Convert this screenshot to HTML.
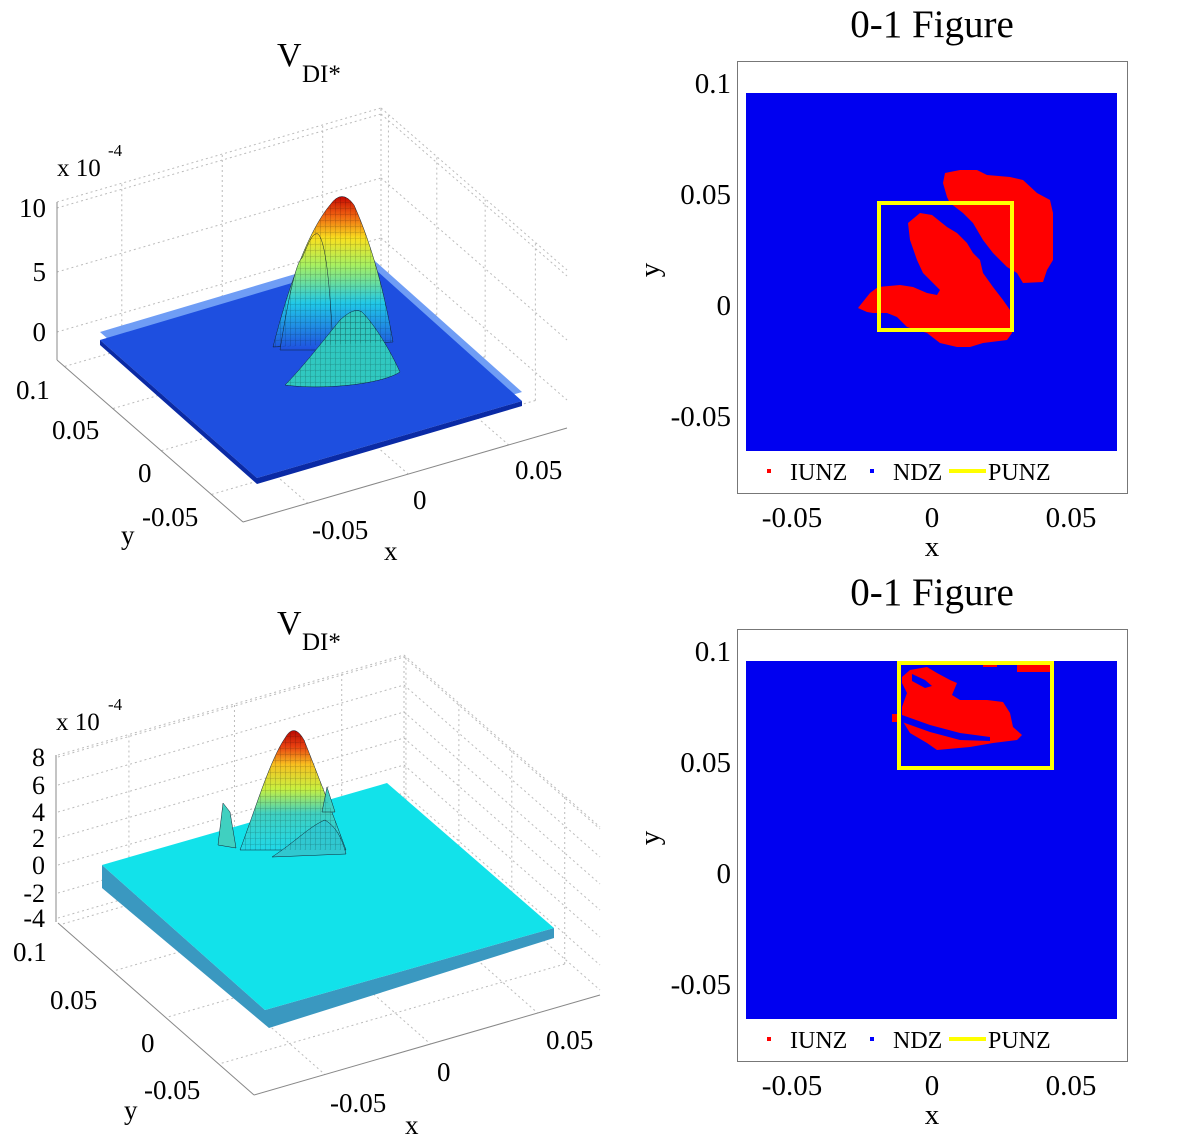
<!DOCTYPE html>
<html><head><meta charset="utf-8"><style>
html,body{margin:0;padding:0;background:#fff}
svg{display:block}
text{font-family:"Liberation Serif",serif;fill:#000}
</style></head><body>
<svg id="s" width="1181" height="1143" viewBox="0 0 1181 1143" xmlns="http://www.w3.org/2000/svg">
<defs>
<linearGradient id="jet1" gradientUnits="userSpaceOnUse" x1="0" y1="350" x2="0" y2="195">
<stop offset="0" stop-color="#1f4fdf"/><stop offset="0.3" stop-color="#20c8e8"/><stop offset="0.55" stop-color="#a8f060"/><stop offset="0.72" stop-color="#f8e020"/><stop offset="0.87" stop-color="#f06010"/><stop offset="1" stop-color="#c00000"/>
</linearGradient>
<linearGradient id="jet2" gradientUnits="userSpaceOnUse" x1="0" y1="850" x2="0" y2="728">
<stop offset="0" stop-color="#20d8e8"/><stop offset="0.3" stop-color="#40d0c0"/><stop offset="0.5" stop-color="#c8f040"/><stop offset="0.7" stop-color="#f8c020"/><stop offset="0.85" stop-color="#e84010"/><stop offset="1" stop-color="#b00000"/>
</linearGradient>
<pattern id="mesh" width="5" height="6" patternUnits="userSpaceOnUse"><line x1="0" y1="0" x2="0" y2="6" stroke="#000" stroke-width="0.6" opacity="0.45"/><line x1="0" y1="5" x2="5" y2="4" stroke="#000" stroke-width="0.4" opacity="0.3"/></pattern>
</defs>
<g id="grid" stroke="#bbb" stroke-width="1" stroke-dasharray="2,3" fill="none"></g>

<!-- Top-left 3D -->
<text x="277" y="66" font-size="34">V</text><text x="302" y="82" font-size="25">DI*</text>
<text x="57" y="176" font-size="25">x 10</text><text x="108" y="156" font-size="17">-4</text>
<g font-size="27" text-anchor="end"><text x="46" y="217">10</text><text x="46" y="281">5</text><text x="46" y="341">0</text></g>
<g font-size="27"><text x="16" y="399">0.1</text><text x="52" y="439">0.05</text><text x="138" y="482">0</text><text x="142" y="526">-0.05</text><text x="121" y="544">y</text>
<text x="312" y="539">-0.05</text><text x="413" y="509">0</text><text x="515" y="479">0.05</text><text x="384" y="560">x</text></g>
<g stroke="#888" stroke-width="1" fill="none">
<line x1="57" y1="202" x2="57" y2="360"/><line x1="57" y1="360" x2="243" y2="522"/><line x1="243" y1="522" x2="567" y2="428"/>
</g>
<polygon points="100,332 366,253 522,392 256,470" fill="#6f9df5"/>
<polygon points="100,340 366,261 522,401 257,478" fill="#1e4fe0"/>
<polygon points="100,340 257,478 522,401 522,406 257,484 100,345" fill="#0a2aa5"/>
<g stroke="#123" stroke-width="0.5">
<path d="M273,347 C285,300 305,235 330,205 Q342,188 354,205 C372,245 385,295 393,342 Z" fill="url(#jet1)"/>
<path d="M280,350 C288,300 296,262 302,258 C308,245 312,232 318,234 C325,240 330,280 333,350 Z" fill="url(#jet1)"/>
<path d="M285,385 C300,370 320,345 340,320 C348,313 355,308 362,312 C375,325 390,350 400,372 C380,385 320,390 285,385Z" fill="#30c8c0"/>
</g>
<path d="M273,347 C285,300 305,235 330,205 Q342,188 354,205 C372,245 385,295 393,342 Z" fill="url(#mesh)"/>
<path d="M285,385 C300,370 320,345 340,320 C348,313 355,308 362,312 C375,325 390,350 400,372 C380,385 320,390 285,385Z" fill="url(#mesh)"/>

<!-- Bottom-left 3D -->
<text x="277" y="634" font-size="34">V</text><text x="302" y="650" font-size="25">DI*</text>
<text x="56" y="730" font-size="25">x 10</text><text x="108" y="710" font-size="17">-4</text>
<g font-size="26" text-anchor="end"><text x="45" y="766">8</text><text x="45" y="794">6</text><text x="45" y="821">4</text><text x="45" y="847">2</text><text x="45" y="874">0</text><text x="45" y="902">-2</text><text x="45" y="927">-4</text></g>
<g font-size="27"><text x="13" y="961">0.1</text><text x="50" y="1009">0.05</text><text x="141" y="1052">0</text><text x="144" y="1099">-0.05</text><text x="124" y="1119">y</text>
<text x="330" y="1112">-0.05</text><text x="437" y="1081">0</text><text x="546" y="1049">0.05</text><text x="405" y="1134">x</text></g>
<g stroke="#888" stroke-width="1" fill="none">
<line x1="56" y1="755" x2="56" y2="922"/><line x1="58" y1="923" x2="254" y2="1095"/><line x1="254" y1="1095" x2="600" y2="995"/>
</g>
<polygon points="102,865 265,1010 554,928 554,938 269,1028 102,888" fill="#3a98c0"/>
<polygon points="102,865 387,783 554,928 265,1010" fill="#12e2ea"/>
<g stroke="#123" stroke-width="0.5">
<path d="M240,850 C255,810 270,760 285,738 Q294,722 304,740 C318,775 335,820 346,850 Z" fill="url(#jet2)"/>
<path d="M218,845 L223,803 L230,812 L236,848Z" fill="#40d0c0"/>
<path d="M322,812 L327,787 L335,812Z" fill="#40d0c0"/>
<path d="M272,857 C295,842 310,826 325,820 C338,828 343,842 346,854Z" fill="#30c8d0"/>
</g>
<path d="M240,850 C255,810 270,760 285,738 Q294,722 304,740 C318,775 335,820 346,850 Z" fill="url(#mesh)"/>

<!-- Top-right -->
<text x="932" y="37" font-size="39" text-anchor="middle">0-1 Figure</text>
<rect x="737.5" y="61.5" width="390" height="432" fill="#fff" stroke="#777"/>
<rect x="746" y="93" width="371" height="358" fill="#0000f0"/>
<polygon fill="#ff0000" points="945,173 960,170 977,170 987,175 1010,177 1023,180 1037,193 1050,200 1053,213 1053,260 1047,270 1043,282 1023,283 1017,273 1007,267 993,253 983,240 973,223 963,213 950,203 947,197 943,183"/>
<polygon fill="#ff0000" points="858,308 870,293 878,287 900,285 913,287 927,293 937,295 940,290 933,283 923,273 917,260 910,240 908,223 920,213 932,215 947,227 957,233 967,243 973,253 980,260 983,273 993,287 1003,300 1010,310 1012,333 1007,340 983,343 970,347 957,347 940,343 927,333 907,327 897,317 887,313 873,313 867,312"/>
<rect x="879" y="203" width="133" height="127" fill="none" stroke="#ffff00" stroke-width="4"/>
<g font-size="29" text-anchor="end"><text x="731" y="93">0.1</text><text x="731" y="204">0.05</text><text x="731" y="315">0</text><text x="731" y="426">-0.05</text></g>
<text x="659" y="270" font-size="29" transform="rotate(-90 659 270)" text-anchor="middle">y</text>
<g font-size="29" text-anchor="middle"><text x="792" y="527">-0.05</text><text x="932" y="527">0</text><text x="1071" y="527">0.05</text><text x="932" y="556">x</text></g>
<g font-size="24"><rect x="767" y="469" width="4" height="4" fill="#f00"/><text x="790" y="480">IUNZ</text>
<rect x="870" y="469" width="4" height="4" fill="#00f"/><text x="893" y="480">NDZ</text>
<line x1="949" y1="471" x2="986" y2="471" stroke="#ff0" stroke-width="4"/><text x="988" y="480">PUNZ</text></g>

<!-- Bottom-right -->
<text x="932" y="605" font-size="39" text-anchor="middle">0-1 Figure</text>
<rect x="737.5" y="629.5" width="390" height="432" fill="#fff" stroke="#777"/>
<rect x="746" y="661" width="371" height="358" fill="#0000f0"/>
<polygon fill="#ff0000" points="902,677 910,670 927,667 937,673 950,680 957,683 952,695 960,700 987,700 1003,702 1010,713 1013,727 1022,735 1017,740 993,743 970,747 937,750 927,743 910,733 902,720 902,707 907,693 902,683"/>
<polygon fill="#0000f0" points="902,715 930,725 960,733 990,737 990,741 960,740 930,732 902,722"/>
<polygon fill="#0000f0" points="912,674 925,680 932,686 925,688 912,681"/>
<rect x="983" y="662" width="14" height="5" fill="#f00"/><rect x="1017" y="663" width="33" height="9" fill="#f00"/><rect x="892" y="714" width="8" height="8" fill="#f00"/>
<rect x="899" y="663" width="153" height="105" fill="none" stroke="#ffff00" stroke-width="4"/>
<g font-size="29" text-anchor="end"><text x="731" y="661">0.1</text><text x="731" y="772">0.05</text><text x="731" y="883">0</text><text x="731" y="994">-0.05</text></g>
<text x="659" y="838" font-size="29" transform="rotate(-90 659 838)" text-anchor="middle">y</text>
<g font-size="29" text-anchor="middle"><text x="792" y="1095">-0.05</text><text x="932" y="1095">0</text><text x="1071" y="1095">0.05</text><text x="932" y="1124">x</text></g>
<g font-size="24"><rect x="767" y="1037" width="4" height="4" fill="#f00"/><text x="790" y="1048">IUNZ</text>
<rect x="870" y="1037" width="4" height="4" fill="#00f"/><text x="893" y="1048">NDZ</text>
<line x1="949" y1="1039" x2="986" y2="1039" stroke="#ff0" stroke-width="4"/><text x="988" y="1048">PUNZ</text></g>
</svg>
<script>
(function(){
var g=document.getElementById('grid'),ns='http://www.w3.org/2000/svg';
function L(a,b,c,d){var l=document.createElementNS(ns,'line');l.setAttribute('x1',a);l.setAttribute('y1',b);l.setAttribute('x2',c);l.setAttribute('y2',d);g.appendChild(l);}
function box(A,F,R,zs,top,xf,yf){
 var dx=[R[0]-F[0],R[1]-F[1]],dy=[F[0]-A[0],F[1]-A[1]];var B=[A[0]+dx[0],A[1]+dx[1]];
 var C=[B[0]+dy[0],B[1]+dy[1]];
 zs.forEach(function(z){L(A[0],A[1]+z,B[0],B[1]+z);L(B[0],B[1]+z,C[0],C[1]+z);});
 L(A[0],A[1]+top,B[0],B[1]+top);L(B[0],B[1]+top,C[0],C[1]+top);L(B[0],B[1],B[0],B[1]+top);
 xf.forEach(function(f){var x=A[0]+f*dx[0],y=A[1]+f*dx[1];L(x,y,x,y+top);L(x,y,x+dy[0],y+dy[1]);});
 yf.forEach(function(f){var x=B[0]+f*dy[0],y=B[1]+f*dy[1];L(x,y,x,y+top);L(x,y,x-dx[0],y-dx[1]);});
}
box([57,360],[243,522],[567,428],[-152,-88,-28],-158,[0.2,0.51,0.82],[0.04,0.3,0.56,0.83]);
box([58,923],[254,1095],[600,995],[-166,-138,-111,-85,-58,-30,-5],-168,[0.205,0.51,0.82],[0.01,0.28,0.55,0.82]);
})();
</script>
</body></html>
